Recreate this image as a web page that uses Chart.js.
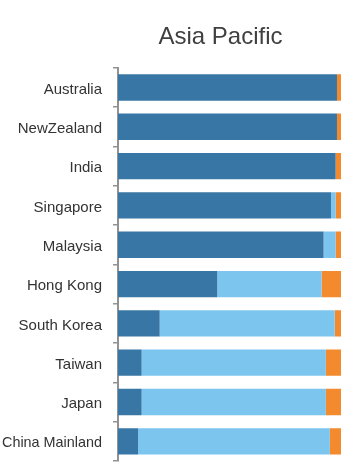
<!DOCTYPE html>
<html>
<head>
<meta charset="utf-8">
<script src="https://cdn.jsdelivr.net/npm/chart.js@4"></script>
<style>
html,body{margin:0;padding:0;background:#fff;}
#wrap{width:358px;height:475px;position:relative;}
</style>
</head>
<body>
<div id="wrap"><canvas id="c"></canvas></div>
<script>
const categories = ["Australia","NewZealand","India","Singapore","Malaysia","Hong Kong","South Korea","Taiwan","Japan","China Mainland"];
const seriesDark  = [98.2, 98.2, 97.6, 95.5, 92.2, 44.5, 18.7, 10.6, 10.6, 9.0];
const seriesLight = [0, 0, 0, 2.1, 5.4, 46.8, 78.5, 82.6, 82.6, 86.0];
const seriesOrange= [1.8, 1.8, 2.4, 2.4, 2.4, 8.7, 2.8, 6.8, 6.8, 5.0];
const titleText = "Asia Pacific";

const shiftTitle = {
  id: 'shiftTitle',
  afterLayout(chart) {
    const t = chart.titleBlock;
    if (t) { t.left -= 9; t.right -= 9; }
  }
};

new Chart(document.getElementById('c'), {
  type: 'bar',
  data: {
    labels: categories,
    datasets: [
      {data: seriesDark, backgroundColor: '#3877a5', borderWidth: 0},
      {data: seriesLight, backgroundColor: '#7cc5ef', borderWidth: 0},
      {data: seriesOrange, backgroundColor: '#f38a2d', borderWidth: 0}
    ]
  },
  plugins: [shiftTitle],
  options: {
    indexAxis: 'y',
    responsive: true,
    maintainAspectRatio: false,
    animation: false,
    datasets: {bar: {barPercentage: 0.67, categoryPercentage: 1}},
    layout: {padding: {top: 0, right: 17, bottom: 14, left: 0}},
    plugins: {
      legend: {display: false},
      tooltip: {enabled: false},
      title: {
        display: true,
        text: titleText,
        fullSize: false,
        color: '#404040',
        font: {family: 'Liberation Sans, Arial, sans-serif', size: 24, weight: 'normal'},
        padding: {top: 23, bottom: 16}
      }
    },
    scales: {
      x: {stacked: true, display: false, min: 0, max: 100},
      y: {
        stacked: true,
        afterFit(scale) { scale.width = 118; scale.paddingTop = 0; scale.paddingBottom = 0; },
        border: {display: true, color: '#929292', width: 2},
        grid: {display: true, drawOnChartArea: false, drawTicks: true, tickLength: 5, color: '#929292', lineWidth: 1.5, offset: true},
        ticks: {
          color: '#333333',
          padding: 11,
          labelOffset: 2,
          font: (ctx) => ({family: 'Liberation Sans, Arial, sans-serif', size: ctx.index === 9 ? 14.4 : 15})
        }
      }
    }
  }
});
</script>
</body>
</html>
